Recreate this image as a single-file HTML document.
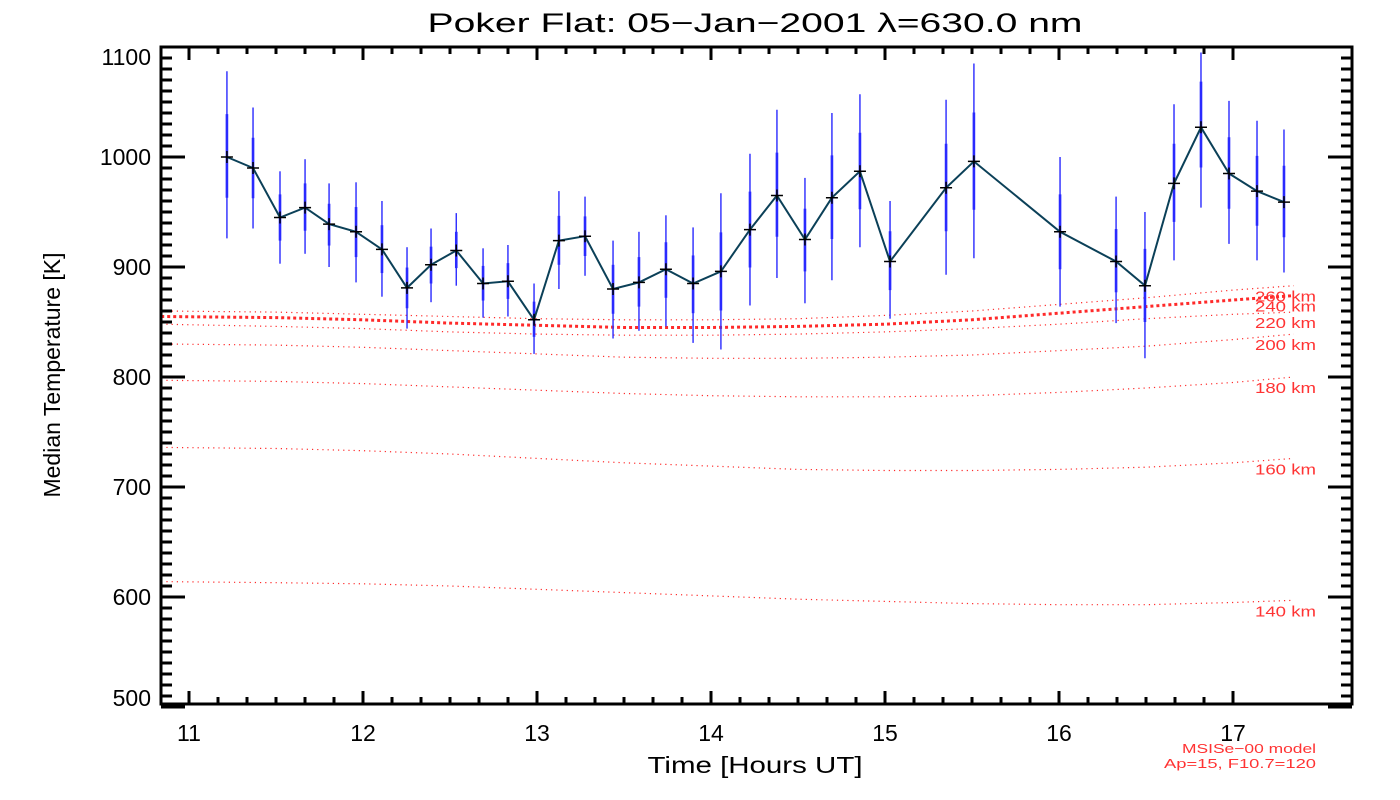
<!DOCTYPE html>
<html><head><meta charset="utf-8"><style>
html,body{margin:0;padding:0;background:#fff;}
svg{display:block;font-family:"Liberation Sans","DejaVu Sans",sans-serif;}
</style></head><body>
<svg id="chart" width="1400" height="800" viewBox="0 0 1400 800" xmlns="http://www.w3.org/2000/svg">
<rect x="0" y="0" width="1400" height="800" fill="#fff"/>
<text x="755" y="32" font-size="27" text-anchor="middle" fill="#000" textLength="655" lengthAdjust="spacingAndGlyphs">Poker Flat: 05−Jan−2001 λ=630.0 nm</text>
<text x="0" y="0" font-size="23" text-anchor="middle" fill="#000" transform="translate(60,375) rotate(-90)">Median Temperature [K]</text>
<text x="755" y="773" font-size="23" text-anchor="middle" fill="#000" textLength="215" lengthAdjust="spacingAndGlyphs">Time [Hours UT]</text>
<text x="1316" y="753" font-size="13" text-anchor="end" fill="#ff3333" textLength="134" lengthAdjust="spacingAndGlyphs">MSISe−00 model</text>
<text x="1316" y="768" font-size="13" text-anchor="end" fill="#ff3333" textLength="152" lengthAdjust="spacingAndGlyphs">Ap=15, F10.7=120</text>
<g id="model"></g>
<g id="errs"></g>
<g id="series"></g>
<g id="axes"></g>
</svg>
<script>
const hours = [11.218,11.368,11.523,11.667,11.805,11.960,12.109,12.253,12.391,12.536,12.69,12.833,12.983,13.126,13.276,13.437,13.586,13.741,13.897,14.057,14.224,14.379,14.540,14.695,14.856,15.029,15.351,15.511,16.006,16.328,16.494,16.661,16.816,16.977,17.138,17.293];
const temps = [1000,990,945,954,939,932,916,881,902,915,885,887,852,924,928,880,886,898,885,896,934,965,925,963,987,905,972,996,932,905,883,976,1027,985,969,959];
const errHi = [1078,1045,987,998,976,977,960,918,935,949,917,920,885,969,964,924,932,947,936,967,1003,1043,981,1040,1057,960,1052,1085,1000,964,950,1048,1110,1051,1033,1025];
const errLo = [926,935,903,912,900,886,873,844,868,883,854,855,821,880,892,835,842,846,831,825,865,890,867,888,918,853,893,908,864,849,817,906,954,921,906,895];
const modelHours = [10.84,11.5,12,12.5,13,13.5,14,14.5,15,15.5,16,16.5,17,17.35];
const alt260 = [860,859,857,855,853,852,852,853,856,860,866,872,879,883];
const alt240 = [855,854,852,849,847,845,845,846,848,852,858,864,870,874];
const alt220 = [848,846,844,841,839,838,838,839,841,844,848,853,857,859];
const alt200 = [830,829,827,824,821,818,817,817,818,820,824,828,834,839];
const alt180 = [797,796,794,791,788,785,783,782,782,783,786,790,795,800];
const alt160 = [736,735,733,730,726,722,719,716,715,715,716,718,722,726];
const alt140 = [614,613,612,610,607,604,601,598,596,594,593,593,595,597];
const altLabels = ["260 km","240 km","220 km","200 km","180 km","160 km","140 km"];
const xTicks = [11,12,13,14,15,16,17];
const yTicks = [500,600,700,800,900,1000,1100];

const NS="http://www.w3.org/2000/svg";
const L=161,R=1352,T=47,B=704;
function xs(h){return 189+(h-11)*174;}
function ys(v){return 157-(v-1000)*1.1;}
function mk(tag,attrs,parent){const e=document.createElementNS(NS,tag);for(const k in attrs)e.setAttribute(k,attrs[k]);parent.appendChild(e);return e;}

const mg=document.getElementById('model');
const curves=[alt260,alt240,alt220,alt200,alt180,alt160,alt140];
curves.forEach((c,i)=>{
  const pts=c.map((v,j)=>xs(modelHours[j]).toFixed(1)+','+ys(v).toFixed(1)).join(' ');
  const thick=i===1;
  const p=mk('polyline',{points:pts,fill:'none',stroke:'#ff2a2a','stroke-width':thick?3:1.2,'stroke-dasharray':thick?'3 3':'1.2 4'},mg);
  
  
  const t=mk('text',{x:1255,y:(ys(c[c.length-1])+16).toFixed(1),'font-size':15,fill:'#ff3333',textLength:61,lengthAdjust:'spacingAndGlyphs'},mg);
  t.textContent=altLabels[i];
  
  
});

const eg=document.getElementById('errs');
hours.forEach((h,i)=>{
  const x=xs(h);
  const hi=Math.min(errHi[i],1095);
  const l=mk('line',{x1:x,x2:x,y1:ys(hi),y2:ys(errLo[i]),stroke:'#2a2aff','stroke-width':1.4},eg);
  
  
  const ih=temps[i]+(errHi[i]-temps[i])/2, il=temps[i]-(temps[i]-errLo[i])/2;
  const l2=mk('line',{x1:x,x2:x,y1:ys(ih),y2:ys(il),stroke:'#2a2aff','stroke-width':2.6},eg);
  
  
});

const sg=document.getElementById('series');
const sp=mk('polyline',{points:hours.map((h,i)=>xs(h).toFixed(1)+','+ys(temps[i]).toFixed(1)).join(' '),fill:'none',stroke:'#0b4058','stroke-width':2},sg);


hours.forEach((h,i)=>{
  const x=xs(h),y=ys(temps[i]);
  const m=mk('path',{d:`M${x-6},${y}H${x+6}M${x},${y-6}V${y+6}`,stroke:'#000','stroke-width':1.5},sg);
  
  
});

const ag=document.getElementById('axes');
const frame=mk('rect',{x:L,y:T,width:R-L,height:B-T,fill:'none',stroke:'#000','stroke-width':3},ag);


let d='';
for(let v=500;v<=1100;v+=10){
  const y=ys(v);const major=v%100===0;const len=major?24:11;
  d+=`M${L},${y}H${L+len}M${R},${y}H${R-len}`;
}
for(let m=0;m<=42;m++){
  const h=10+m/6;const x=xs(h);
  if(x<L+2||x>R-2)continue;
  const major=m%6===0;const len=major?13:7;
  d+=`M${x},${B}V${B-len}M${x},${T}V${T+len}`;
}
const tk=mk('path',{d:d,stroke:'#000','stroke-width':3,fill:'none'},ag);


yTicks.forEach(v=>{
  let y=ys(v)+8;
  if(v===1100)y+=10;
  if(v===500)y-=9;
  const t=mk('text',{x:151,y:y.toFixed(1),'font-size':23,'text-anchor':'end',fill:'#000'},ag);
  t.textContent=v;
  
  
});
xTicks.forEach(v=>{
  const t=mk('text',{x:xs(v),y:741,'font-size':23,'text-anchor':'middle',fill:'#000'},ag);
  t.textContent=v;
  
  
});
</script>
</body></html>
